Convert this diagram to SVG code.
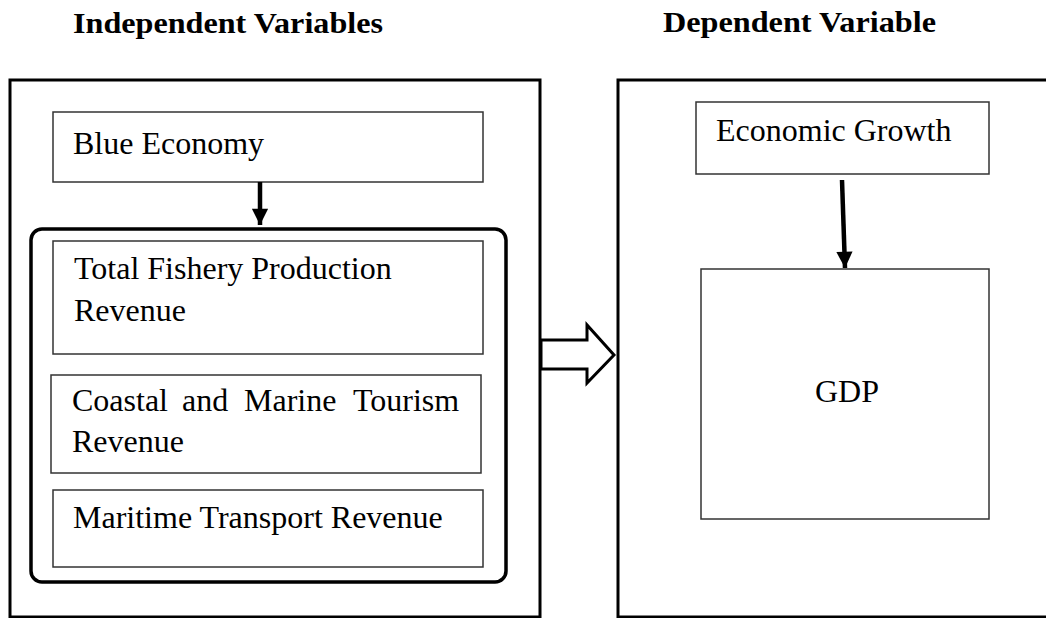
<svg xmlns="http://www.w3.org/2000/svg" width="1046" height="618" viewBox="0 0 1046 618">
<defs>
<style>
.t{font-family:"Liberation Serif","Times New Roman",serif;font-size:32px;fill:#000}
.h{font-family:"Liberation Serif","Times New Roman",serif;font-size:30px;font-weight:bold;fill:#000}
.outer{fill:none;stroke:#000;stroke-width:3}
.box{fill:#fff;stroke:#333;stroke-width:1.5}
.group{fill:none;stroke:#000;stroke-width:3.5}
.arr{stroke:#000;stroke-width:4.5;fill:none}
</style>
<marker id="ah" viewBox="0 0 10 10" refX="10" refY="5" markerWidth="4" markerHeight="3.6" markerUnits="strokeWidth" orient="auto">
<path d="M0,0 L10,5 L0,10 Z" fill="#000"/>
</marker>
</defs>
<rect width="1046" height="618" fill="#fff"/>
<text class="h" x="73" y="33" textLength="310" lengthAdjust="spacingAndGlyphs">Independent Variables</text>
<text class="h" x="663" y="32" textLength="273" lengthAdjust="spacingAndGlyphs">Dependent Variable</text>
<g id="independent">
<rect class="outer" x="10" y="80" width="530" height="537"/>
</g>
<g id="dependent">
<rect class="outer" x="618" y="80" width="440" height="537"/>
</g>
<g id="blue-economy">
<rect class="box" x="53" y="112" width="430" height="70"/>
<text class="t" x="73" y="154">Blue Economy</text>
</g>
<g id="components">
<rect class="group" x="31" y="229" width="475" height="353" rx="11"/>
</g>
<g id="fishery">
<rect class="box" x="53" y="241" width="430" height="113"/>
<text class="t" x="74" y="279">Total Fishery Production</text>
<text class="t" x="74" y="321">Revenue</text>
</g>
<g id="tourism">
<rect class="box" x="51" y="375" width="430" height="98"/>
<text class="t" y="411"><tspan x="72">Coastal</tspan><tspan x="182">and</tspan><tspan x="244">Marine</tspan><tspan x="353">Tourism</tspan></text>
<text class="t" x="72" y="452">Revenue</text>
</g>
<g id="maritime">
<rect class="box" x="53" y="490" width="430" height="77"/>
<text class="t" x="73" y="528">Maritime Transport Revenue</text>
</g>
<g id="economic-growth">
<rect class="box" x="696" y="102" width="293" height="72"/>
<text class="t" x="716" y="141">Economic Growth</text>
</g>
<g id="gdp">
<rect class="box" x="701" y="269" width="288" height="250"/>
<text class="t" x="847" y="402" text-anchor="middle">GDP</text>
</g>
<g id="connectors">
<line class="arr" x1="260" y1="182" x2="260" y2="225" marker-end="url(#ah)"/>
<line class="arr" x1="842" y1="180" x2="845" y2="268" marker-end="url(#ah)"/>
<polygon points="541,340 587,340 587,325 614,355 587,383 587,369 541,369" fill="#fff" stroke="#000" stroke-width="3" stroke-linejoin="miter"/>
</g>
</svg>
